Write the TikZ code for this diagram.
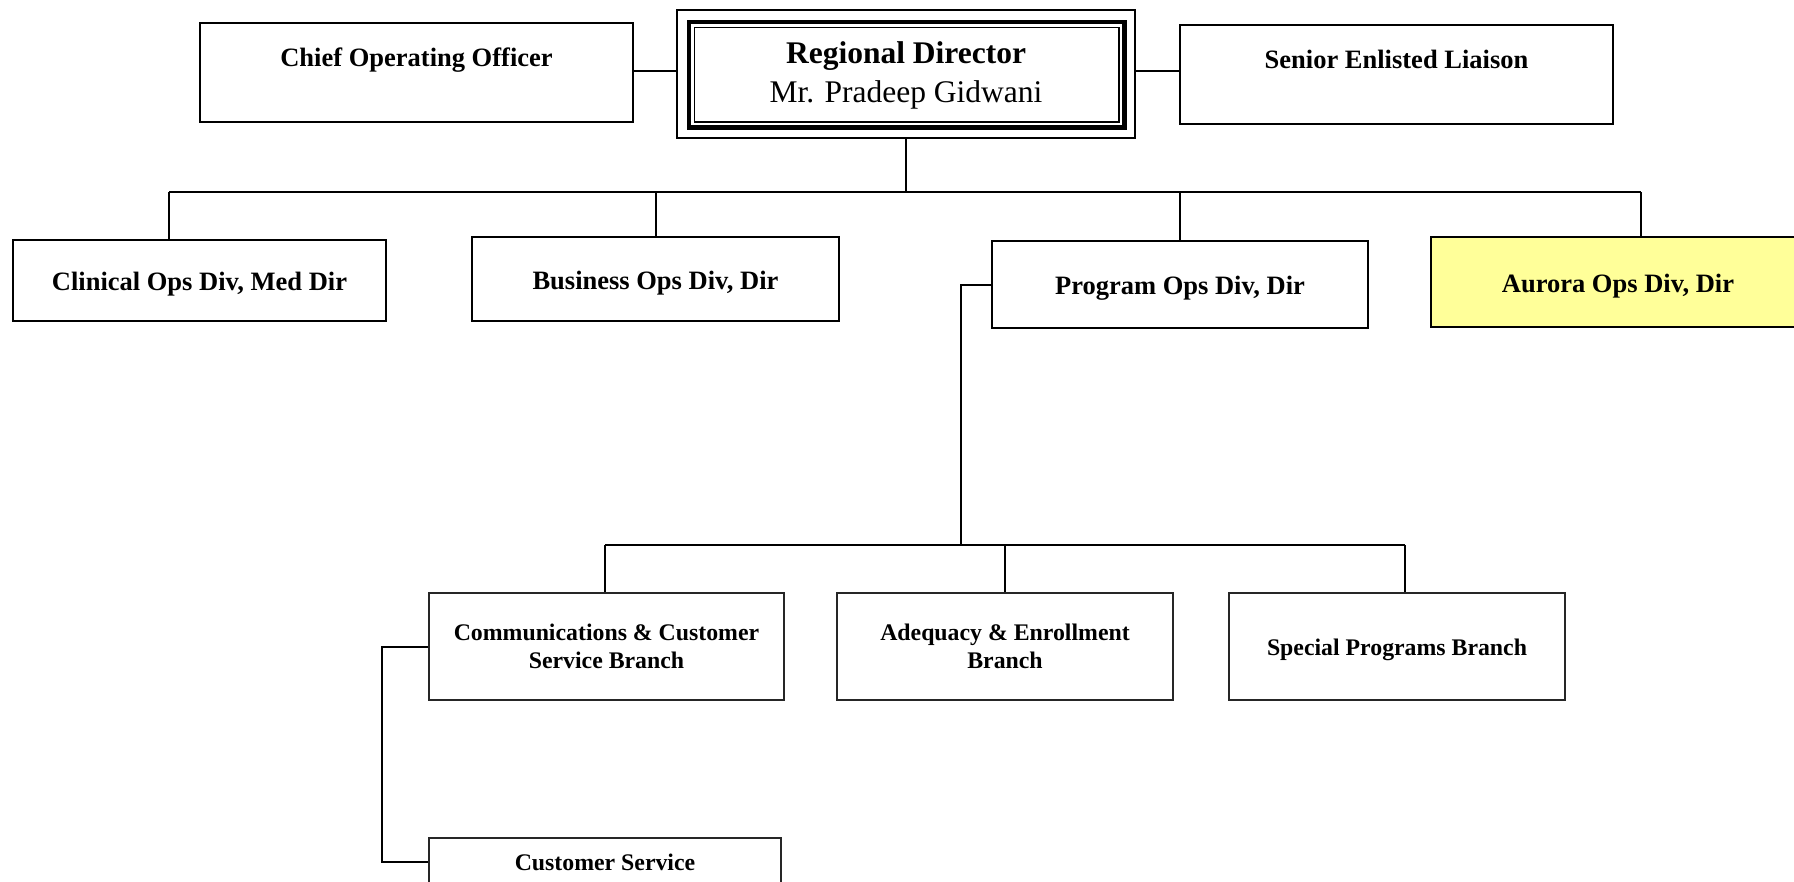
\documentclass[tikz,border=0pt]{standalone}
\usepackage{fontspec}
\setmainfont{Liberation Serif}
\definecolor{aurorafill}{RGB}{255,255,153}
\tikzset{
  box/.style={draw=black, line width=2.2pt, inner sep=0pt, fill=white, align=center,
    font=\fontsize{26.5}{32}\selectfont\bfseries, text height=20pt, text depth=0pt},
  toptxt/.style={anchor=base, inner sep=0pt, font=\fontsize{26.5}{32}\selectfont\bfseries},
  smallbox/.style={draw=black!85, line width=1.6pt, inner sep=0pt, fill=white, align=center,
    font=\fontsize{23.8}{28.5}\selectfont\bfseries},
  conn/.style={line width=2pt, draw=black},
}
\begin{document}
\begin{tikzpicture}[x=1pt,y=-1pt]
\useasboundingbox (0,0) rectangle (1794,881);
\clip (0,0) rectangle (1794,881);

% top row
\node[box, minimum width=433pt, minimum height=99pt] (coo) at (416.5,72.5) {};
\node[toptxt] (cootxt) at (416.5,66) {Chief Operating Officer};
\node[box, minimum width=433pt, minimum height=99pt] (sel) at (1396.5,74.5) {};
\node[toptxt] (seltxt) at (1396.5,68) {Senior Enlisted Liaison};

\node[draw, line width=1.5pt, inner sep=0pt, minimum width=458pt, minimum height=128pt] (rd) at (906,74) {};
\draw[line width=4.5pt] ([xshift=12.5pt,yshift=-12.5pt]rd.north west) rectangle ([xshift=-11.5pt,yshift=11.5pt]rd.south east);
\draw[line width=1.5pt] ([xshift=18pt,yshift=-18pt]rd.north west) rectangle ([xshift=-17pt,yshift=17pt]rd.south east);
\node[align=center, inner sep=0pt, font=\fontsize{31.5}{39}\selectfont] (rdtxt) at (906,75)
  {\textbf{Regional Director}\\Mr. Pradeep Gidwani};

% second row
\node[box, minimum width=373pt, minimum height=81pt] (clin) at (199.5,280.5) {Clinical Ops Div, Med Dir};
\node[box, minimum width=367pt, minimum height=84pt] (bus) at (655.5,279) {Business Ops Div, Dir};
\node[box, minimum width=376pt, minimum height=87pt] (prog) at (1180,284.5) {Program Ops Div, Dir};
\node[box, fill=aurorafill, minimum width=374pt, minimum height=90pt] (aur) at (1618,282) {Aurora Ops Div, Dir};

% third row
\node[smallbox, minimum width=355pt, minimum height=107pt] (comm) at (606.5,646.5) {Communications \& Customer\\Service Branch};
\node[smallbox, minimum width=336pt, minimum height=107pt] (adeq) at (1005,646.5) {Adequacy \& Enrollment\\Branch};
\node[smallbox, minimum width=336pt, minimum height=107pt, text height=18pt, text depth=0pt] (spec) at (1397,646.5) {Special Programs Branch};
\node[smallbox, minimum width=352pt, minimum height=48pt] (cs) at (605,862) {Customer Service};

% connectors
\coordinate (toprow) at (906,71);
\draw[conn] (toprow -| coo.east) -- (toprow -| rd.west);
\draw[conn] (toprow -| rd.east) -- (toprow -| sel.west);

\coordinate (b1L) at (169,192);
\coordinate (b1R) at (1641,192);
\draw[conn] (rd.south) -- (rd.south |- b1L);
\draw[conn] (b1L) -- (b1R);
\draw[conn] (b1L) -- (b1L |- clin.north);
\draw[conn] (bus.north |- b1L) -- (bus.north);
\draw[conn] (prog.north |- b1L) -- (prog.north);
\draw[conn] (b1R) -- (b1R |- aur.north);

\coordinate (p2) at (961,545);
\draw[conn] (prog.west) -- (prog.west -| p2) -- (p2);
\coordinate (b2L) at (605,545);
\coordinate (b2R) at (1405,545);
\draw[conn] (b2L) -- (b2R);
\draw[conn] (b2L) -- (b2L |- comm.north);
\draw[conn] (adeq.north |- b2L) -- (adeq.north);
\draw[conn] (b2R) -- (b2R |- spec.north);

\coordinate (c3) at (382,700);
\draw[conn] (comm.west) -- (comm.west -| c3) -- (cs.west -| c3) -- (cs.west);
\end{tikzpicture}
\end{document}
